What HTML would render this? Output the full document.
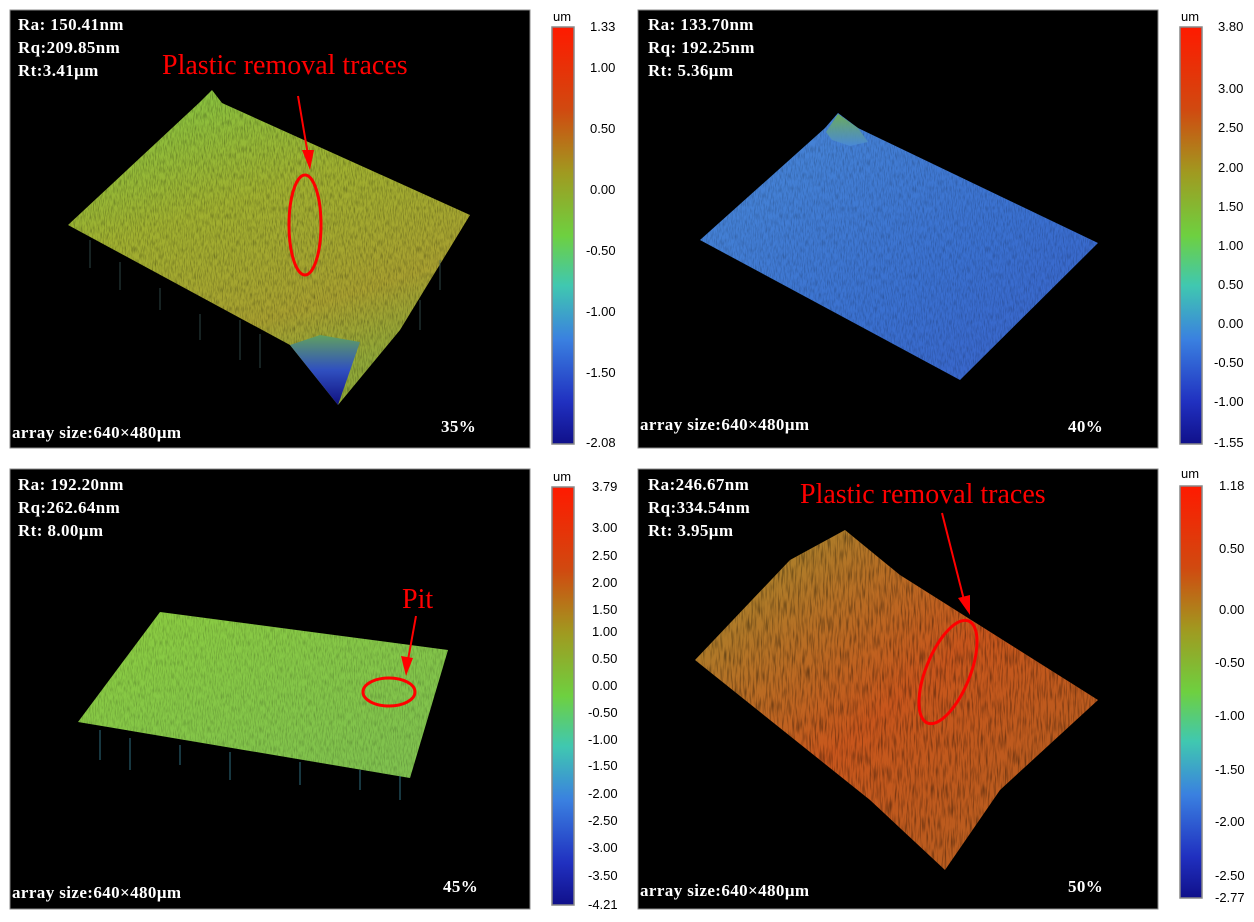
<!DOCTYPE html>
<html><head><meta charset="utf-8"><style>
html,body{margin:0;padding:0;background:#fff;width:1254px;height:922px;overflow:hidden}
svg{display:block}
.w{font-family:"Liberation Serif",serif;font-weight:bold;fill:#fff;font-size:17px;letter-spacing:0.4px}
.r{font-family:"Liberation Serif",serif;fill:#f00;font-size:28px}
.t{font-family:"Liberation Sans",sans-serif;font-size:13px;fill:#000}
.u{font-family:"Liberation Sans",sans-serif;font-size:13px;fill:#000}
</style></head><body>
<svg width="1254" height="922" viewBox="0 0 1254 922" xmlns="http://www.w3.org/2000/svg">
<defs>
<linearGradient id="cb" x1="0" y1="0" x2="0" y2="1">
<stop offset="0" stop-color="#ff1a00"/><stop offset="0.2" stop-color="#d04a10"/>
<stop offset="0.35" stop-color="#a09a20"/><stop offset="0.5" stop-color="#6ed040"/>
<stop offset="0.62" stop-color="#40c8b0"/><stop offset="0.75" stop-color="#3a80e0"/>
<stop offset="0.9" stop-color="#2030c0"/><stop offset="1" stop-color="#10108a"/>
</linearGradient>
<linearGradient id="g1" x1="0" y1="0" x2="0.4" y2="1">
<stop offset="0" stop-color="#80c844"/><stop offset="0.45" stop-color="#a0b030"/>
<stop offset="0.8" stop-color="#a8a030"/><stop offset="1" stop-color="#90a838"/>
</linearGradient>
<linearGradient id="g1d" x1="0" y1="0" x2="0" y2="1">
<stop offset="0" stop-color="#60a060"/><stop offset="0.5" stop-color="#3050c0"/><stop offset="1" stop-color="#101080"/>
</linearGradient>
<linearGradient id="g2" x1="0" y1="0" x2="1" y2="1">
<stop offset="0" stop-color="#4a8ad8"/><stop offset="0.6" stop-color="#3a70d0"/><stop offset="1" stop-color="#3860c8"/>
</linearGradient>
<linearGradient id="g2p" x1="0" y1="0" x2="0" y2="1">
<stop offset="0" stop-color="#70b050"/><stop offset="1" stop-color="#4a8ad8"/>
</linearGradient>
<linearGradient id="g3" x1="0" y1="0" x2="1" y2="1">
<stop offset="0" stop-color="#8ccd40"/><stop offset="1" stop-color="#7ec050"/>
</linearGradient>
<linearGradient id="g4" x1="0" y1="0" x2="1" y2="1">
<stop offset="0" stop-color="#a09030"/><stop offset="0.5" stop-color="#c8561c"/><stop offset="1" stop-color="#b06020"/>
</linearGradient>
<filter id="n" x="0" y="0" width="100%" height="100%">
<feTurbulence type="fractalNoise" baseFrequency="0.9 0.15" numOctaves="2" seed="3"/>
<feColorMatrix values="0 0 0 0 0  0 0 0 0 0  0 0 0 0 0  0 0 0 1.2 -0.5"/>
<feComposite in2="SourceGraphic" operator="in"/>
</filter>
<filter id="n2" x="0" y="0" width="100%" height="100%">
<feTurbulence type="fractalNoise" baseFrequency="0.6 0.06" numOctaves="2" seed="7"/>
<feColorMatrix values="0 0 0 0 0  0 0 0 0 0  0 0 0 0 0  0 0 0 1.6 -0.7"/>
<feComposite in2="SourceGraphic" operator="in"/>
</filter>
</defs>

<rect x="10" y="10" width="520" height="438" fill="#000" stroke="#888"/>
<rect x="638" y="10" width="520" height="438" fill="#000" stroke="#888"/>
<rect x="10" y="469" width="520" height="440" fill="#000" stroke="#888"/>
<rect x="638" y="469" width="520" height="440" fill="#000" stroke="#888"/>

<!-- surface 1 -->
<polygon points="68,225 200,102 212,90 222,103 470,215 400,330 338,405 290,345" fill="url(#g1)"/>
<polygon points="68,225 200,102 212,90 222,103 470,215 400,330 338,405 290,345" fill="#903010" filter="url(#n)" opacity="0.55"/>
<polygon points="290,345 320,335 360,342 338,405" fill="url(#g1d)"/>
<g stroke="#406060" stroke-width="1" opacity="0.7">
<line x1="90" y1="240" x2="90" y2="268"/><line x1="120" y1="262" x2="120" y2="290"/><line x1="160" y1="288" x2="160" y2="310"/><line x1="200" y1="314" x2="200" y2="340"/><line x1="240" y1="320" x2="240" y2="360"/><line x1="260" y1="334" x2="260" y2="368"/><line x1="420" y1="300" x2="420" y2="330"/><line x1="440" y1="260" x2="440" y2="290"/>
</g>

<!-- surface 2 -->
<polygon points="700,240 825,128 838,113 858,128 1098,243 960,380" fill="url(#g2)"/>
<polygon points="700,240 825,128 838,113 858,128 1098,243 960,380" fill="#203080" filter="url(#n)" opacity="0.4"/>
<polygon points="826,132 838,114 858,128 868,142 850,146 832,140" fill="url(#g2p)" opacity="0.9"/>

<!-- surface 3 -->
<polygon points="78,722 160,612 448,650 410,778" fill="url(#g3)"/>
<polygon points="78,722 160,612 448,650 410,778" fill="#407040" filter="url(#n)" opacity="0.4"/>
<g stroke="#3a8aa0" stroke-width="1" opacity="0.8">
<line x1="100" y1="730" x2="100" y2="760"/><line x1="130" y1="738" x2="130" y2="770"/><line x1="180" y1="745" x2="180" y2="765"/><line x1="230" y1="752" x2="230" y2="780"/><line x1="300" y1="762" x2="300" y2="785"/><line x1="360" y1="770" x2="360" y2="790"/><line x1="400" y1="776" x2="400" y2="800"/>
</g>

<!-- surface 4 -->
<polygon points="695,660 790,560 845,530 900,575 1098,700 1000,790 945,870 870,800" fill="url(#g4)"/>
<polygon points="695,660 790,560 845,530 900,575 1098,700 1000,790 945,870 870,800" fill="#70c050" filter="url(#n2)" opacity="0.6"/>

<!-- annotations -->
<text class="r" x="162" y="74">Plastic removal traces</text>
<line x1="298" y1="96" x2="308" y2="155" stroke="#f00" stroke-width="2"/>
<polygon points="302,150 314,150 310,170" fill="#f00"/>
<ellipse cx="305" cy="225" rx="16" ry="50" fill="none" stroke="#f00" stroke-width="3"/>

<text class="r" x="402" y="608">Pit</text>
<line x1="416" y1="616" x2="408" y2="660" stroke="#f00" stroke-width="2"/>
<polygon points="401,656 413,658 406,676" fill="#f00"/>
<ellipse cx="389" cy="692" rx="26" ry="14" fill="none" stroke="#f00" stroke-width="3"/>

<text class="r" x="800" y="503">Plastic removal traces</text>
<line x1="942" y1="513" x2="964" y2="600" stroke="#f00" stroke-width="2"/>
<polygon points="958,598 970,595 970,615" fill="#f00"/>
<ellipse cx="948" cy="672" rx="22" ry="55" transform="rotate(22 948 672)" fill="none" stroke="#f00" stroke-width="3"/>

<g class="w">
<text x="18" y="30">Ra: 150.41nm</text><text x="18" y="53">Rq:209.85nm</text><text x="18" y="76">Rt:3.41μm</text>
<text x="12" y="438">array size:640×480μm</text><text x="441" y="432">35%</text>
<text x="648" y="30">Ra: 133.70nm</text><text x="648" y="53">Rq: 192.25nm</text><text x="648" y="76">Rt: 5.36μm</text>
<text x="640" y="430">array size:640×480μm</text><text x="1068" y="432">40%</text>
<text x="18" y="490">Ra: 192.20nm</text><text x="18" y="513">Rq:262.64nm</text><text x="18" y="536">Rt: 8.00μm</text>
<text x="12" y="898">array size:640×480μm</text><text x="443" y="892">45%</text>
<text x="648" y="490">Ra:246.67nm</text><text x="648" y="513">Rq:334.54nm</text><text x="648" y="536">Rt: 3.95μm</text>
<text x="640" y="896">array size:640×480μm</text><text x="1068" y="892">50%</text>
</g>

<g stroke="#888" stroke-width="1.5">
<rect x="552" y="27" width="22" height="417" fill="url(#cb)"/>
<rect x="1180" y="27" width="22" height="417" fill="url(#cb)"/>
<rect x="552" y="487" width="22" height="418" fill="url(#cb)"/>
<rect x="1180" y="486" width="22" height="412" fill="url(#cb)"/>
</g>
<g class="u"><text x="553" y="21">um</text><text x="1181" y="21">um</text><text x="553" y="481">um</text><text x="1181" y="478">um</text></g>
<g class="t" stroke="none">
<text x="590" y="31">1.33</text><text x="590" y="72">1.00</text><text x="590" y="133">0.50</text><text x="590" y="194">0.00</text><text x="586" y="255">-0.50</text><text x="586" y="316">-1.00</text><text x="586" y="377">-1.50</text><text x="586" y="447">-2.08</text>
<text x="1218" y="31">3.80</text><text x="1218" y="93">3.00</text><text x="1218" y="132">2.50</text><text x="1218" y="172">2.00</text><text x="1218" y="211">1.50</text><text x="1218" y="250">1.00</text><text x="1218" y="289">0.50</text><text x="1218" y="328">0.00</text><text x="1214" y="367">-0.50</text><text x="1214" y="406">-1.00</text><text x="1214" y="447">-1.55</text>
<text x="592" y="491">3.79</text><text x="592" y="532">3.00</text><text x="592" y="560">2.50</text><text x="592" y="587">2.00</text><text x="592" y="614">1.50</text><text x="592" y="636">1.00</text><text x="592" y="663">0.50</text><text x="592" y="690">0.00</text><text x="588" y="717">-0.50</text><text x="588" y="744">-1.00</text><text x="588" y="770">-1.50</text><text x="588" y="798">-2.00</text><text x="588" y="825">-2.50</text><text x="588" y="852">-3.00</text><text x="588" y="880">-3.50</text><text x="588" y="909">-4.21</text>
<text x="1219" y="490">1.18</text><text x="1219" y="553">0.50</text><text x="1219" y="614">0.00</text><text x="1215" y="667">-0.50</text><text x="1215" y="720">-1.00</text><text x="1215" y="774">-1.50</text><text x="1215" y="826">-2.00</text><text x="1215" y="880">-2.50</text><text x="1215" y="902">-2.77</text>
</g>
</svg>
</body></html>
